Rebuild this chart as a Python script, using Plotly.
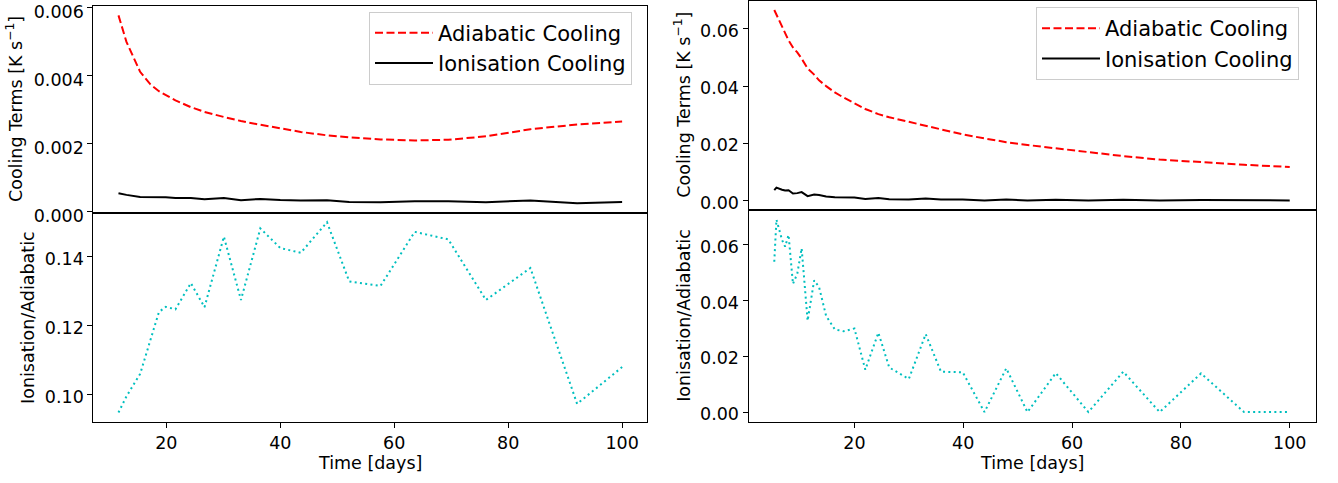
import plotly.graph_objects as go

# ---- Left model: snapshot times [days] and cooling terms [K/s] ----
t_left = [11.6, 13.0, 15.4, 17.2, 18.7, 19.9, 21.6, 24.3, 26.7, 30.1, 33.1, 36.5,
          40.0, 43.6, 48.2, 52.1, 57.6, 63.6, 69.5, 76.1, 83.9, 92.1, 100.0]
adiabatic_left = [0.00578, 0.00500, 0.00412, 0.00375, 0.00355, 0.00343, 0.00328,
                  0.00308, 0.00294, 0.00279, 0.00267, 0.00256, 0.00245, 0.00235,
                  0.00225, 0.00219, 0.00213, 0.00210, 0.00212, 0.00222, 0.00243,
                  0.00257, 0.00266]
ionisation_left = [0.000548, 0.000498, 0.000437, 0.000435, 0.000440, 0.000430,
                   0.000409, 0.000408, 0.000369, 0.000407, 0.000340, 0.000380,
                   0.000349, 0.000332, 0.000338, 0.000291, 0.000280, 0.000309,
                   0.000308, 0.000283, 0.000332, 0.000250, 0.000287]
ratio_left = [0.0948, 0.0995, 0.1060, 0.1160, 0.1240, 0.1255, 0.1248, 0.1324,
              0.1254, 0.1459, 0.1275, 0.1483, 0.1426, 0.1412, 0.1501, 0.1329,
              0.1316, 0.1473, 0.1451, 0.1275, 0.1368, 0.0973, 0.1080]

# ---- Right model ----
t_right = [5.27, 5.67, 6.7, 7.26, 7.9, 8.7, 9.5, 10.3, 11.4, 12.6, 13.5, 14.8,
           16.4, 18.0, 20.0, 22.0, 24.4, 26.4, 30.0, 33.1, 35.9, 39.9, 43.9,
           47.9, 51.8, 57.0, 63.0, 69.4, 76.1, 83.7, 91.6, 100.0]
adiabatic_right = [0.0666, 0.0650, 0.0610, 0.0585, 0.0560, 0.0535, 0.0518, 0.0496,
                   0.0462, 0.0440, 0.0420, 0.0400, 0.0378, 0.0360, 0.0340, 0.0320,
                   0.0302, 0.0291, 0.0275, 0.0262, 0.0249, 0.0231, 0.0217, 0.0204,
                   0.0194, 0.0182, 0.0169, 0.0155, 0.0143, 0.0133, 0.0125, 0.0117]
ionisation_right = [0.00360, 0.00449, 0.00377, 0.00347, 0.00356, 0.00246, 0.00257,
                    0.00292, 0.00152, 0.00208, 0.00189, 0.00138, 0.00112, 0.00104,
                    0.00102, 0.000486, 0.00086, 0.000466, 0.000327, 0.000734,
                    0.000361, 0.00033, 0.0, 0.00032, 0.0, 0.000255, 0.0, 0.000225,
                    0.0, 0.000185, 0.0, 0.0]
ratio_right = [0.0540, 0.0691, 0.0618, 0.0594, 0.0636, 0.0460, 0.0497, 0.0588,
               0.0328, 0.0473, 0.0449, 0.0345, 0.0297, 0.0290, 0.0300, 0.0152,
               0.0285, 0.0160, 0.0119, 0.0280, 0.0145, 0.0143, 0.0, 0.0157, 0.0,
               0.0140, 0.0, 0.0145, 0.0, 0.0139, 0.0, 0.0]

W, H = 1338, 483
FONT = "DejaVu Sans"
RED = "#ff0000"
CYAN = "#00bfbf"


def padded(*series, frac=0.05):
    lo = min(min(s) for s in series)
    hi = max(max(s) for s in series)
    d = (hi - lo) * frac
    return [lo - d, hi + d]


def px_x(p):
    return p / W


def px_y(p):
    return 1 - p / H


fig = go.Figure()

# left column: top = cooling terms, bottom = ratio
fig.add_trace(go.Scatter(x=t_left, y=adiabatic_left, mode="lines", name="Adiabatic Cooling",
                         line=dict(color=RED, width=2, dash="8px,3.5px"),
                         xaxis="x2", yaxis="y2", legend="legend"))
fig.add_trace(go.Scatter(x=t_left, y=ionisation_left, mode="lines", name="Ionisation Cooling",
                         line=dict(color="black", width=2),
                         xaxis="x2", yaxis="y2", legend="legend"))
fig.add_trace(go.Scatter(x=t_left, y=ratio_left, mode="lines", showlegend=False,
                         line=dict(color=CYAN, width=2, dash="2px,3.3px"),
                         xaxis="x", yaxis="y"))

# right column
fig.add_trace(go.Scatter(x=t_right, y=adiabatic_right, mode="lines", name="Adiabatic Cooling",
                         line=dict(color=RED, width=2, dash="8px,3.5px"),
                         xaxis="x4", yaxis="y4", legend="legend2"))
fig.add_trace(go.Scatter(x=t_right, y=ionisation_right, mode="lines", name="Ionisation Cooling",
                         line=dict(color="black", width=2),
                         xaxis="x4", yaxis="y4", legend="legend2"))
fig.add_trace(go.Scatter(x=t_right, y=ratio_right, mode="lines", showlegend=False,
                         line=dict(color=CYAN, width=2, dash="2px,3.3px"),
                         xaxis="x3", yaxis="y3"))

tickfont = dict(family=FONT, size=17.5, color="black")
common = dict(showline=True, mirror=True, linecolor="black", linewidth=1,
              showgrid=False, zeroline=False, ticks="outside", ticklen=5,
              tickwidth=1, tickcolor="black", tickfont=tickfont, automargin=False,
              ticklabeloverflow="allow")

left_dom = [px_x(93.3), px_x(647.3)]
right_dom = [px_x(748.5), px_x(1315.5)]
lt_dom = [px_y(212.7), px_y(6)]
lb_dom = [px_y(422), px_y(212.7)]
rt_dom = [px_y(210), px_y(0.5)]
rb_dom = [px_y(421.7), px_y(210)]

xr_left = padded(t_left)
xr_right = padded(t_right)

legend_style = dict(xanchor="left", yanchor="top",
                    bgcolor="rgba(255,255,255,0.8)", bordercolor="#cccccc", borderwidth=1,
                    font=dict(family=FONT, size=21, color="black"), itemwidth=58)

fig.update_layout(
    template="none",
    width=W, height=H, autosize=False,
    margin=dict(l=0, r=0, t=0, b=0, pad=0, autoexpand=False),
    paper_bgcolor="white", plot_bgcolor="white",
    font=dict(family=FONT, color="black"),
    xaxis=dict(domain=left_dom, anchor="y", range=xr_left, dtick=20, tick0=0, **common),
    yaxis=dict(domain=lb_dom, anchor="x", range=padded(ratio_left), dtick=0.02,
               tick0=0, tickformat=".2f", ticklabelshift=2, **common),
    xaxis2=dict(domain=left_dom, anchor="y2", range=xr_left,
                showticklabels=False, **{**common, "ticks": ""}),
    yaxis2=dict(domain=lt_dom, anchor="x2", range=padded(adiabatic_left, ionisation_left),
                tickvals=[0.0, 0.002, 0.004, 0.006], tickformat=".3f", ticklabelshift=4,
                **common),
    xaxis3=dict(domain=right_dom, anchor="y3", range=xr_right, dtick=20, tick0=0, **common),
    yaxis3=dict(domain=rb_dom, anchor="x3", range=padded(ratio_right), dtick=0.02,
                tick0=0, tickformat=".2f", ticklabelshift=2, **common),
    xaxis4=dict(domain=right_dom, anchor="y4", range=xr_right,
                showticklabels=False, **{**common, "ticks": ""}),
    yaxis4=dict(domain=rt_dom, anchor="x4", range=padded(adiabatic_right, ionisation_right),
                dtick=0.02, tick0=0, tickformat=".2f", ticklabelshift=2, **common),
    legend=dict(x=px_x(369), y=px_y(11.5), **legend_style),
    legend2=dict(x=px_x(1036), y=px_y(7), **legend_style),
    showlegend=True,
)

title_font = dict(family=FONT, size=17.5, color="black")
ytitles = [
    ("Cooling Terms [K s<sup>\u22121</sup>]", 14.7, lt_dom),
    ("Ionisation/Adiabatic", 28.6, lb_dom),
    ("Cooling Terms [K s<sup>\u22121</sup>]", 682.5, rt_dom),
    ("Ionisation/Adiabatic", 684.0, rb_dom),
]
for text, xc, dom in ytitles:
    fig.add_annotation(text=text, x=px_x(xc), y=(dom[0] + dom[1]) / 2, xref="paper", yref="paper",
                       textangle=-90, showarrow=False, font=title_font,
                       xanchor="center", yanchor="middle")
for dom in (left_dom, right_dom):
    fig.add_annotation(text="Time [days]", x=(dom[0] + dom[1]) / 2, y=px_y(463), xref="paper",
                       yref="paper", showarrow=False, font=title_font,
                       xanchor="center", yanchor="middle")

fig.write_html("out.html")
